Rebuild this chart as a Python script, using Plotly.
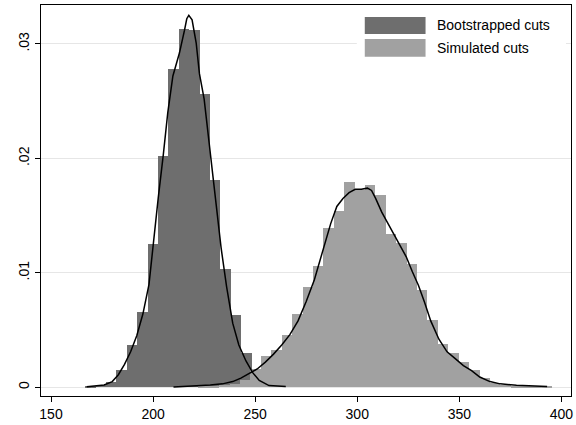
import plotly.graph_objects as go

# ---------------- data ----------------
boot_edges = [166.7, 171.8, 176.9, 182.0, 187.1, 192.2, 197.3, 202.4, 207.5, 212.6,
              217.7, 222.8, 227.9, 233.0, 238.1, 243.2, 248.3, 253.4, 258.5]
boot_density = [0.0001, 0.0002, 0.0005, 0.0015, 0.0037, 0.0066, 0.0125, 0.0202, 0.0278, 0.0313,
                0.0312, 0.0256, 0.0181, 0.0103, 0.0063, 0.0030, 0.00145, 0.0005, 0.0002]

sim_edges = [222.2, 227.3, 232.4, 237.5, 242.6, 247.7, 252.8, 257.9, 263.0, 268.1,
             273.2, 278.3, 283.4, 288.5, 293.6, 298.7, 303.8, 308.9, 314.0, 319.1,
             324.2, 329.3, 334.4, 339.5, 344.6, 349.7, 354.8, 359.9, 365.0, 370.1,
             375.2, 380.3, 385.4, 390.5]
sim_density = [0.0001, 0.0001, 0.0002, 0.0003, 0.0006, 0.0016, 0.0027, 0.0033, 0.0046, 0.0064,
               0.0088, 0.0106, 0.0139, 0.0154, 0.0179, 0.0172, 0.0177, 0.0168, 0.0134, 0.0126,
               0.0108, 0.0085, 0.0059, 0.0038, 0.0030, 0.0022, 0.0015, 0.0008, 0.0004, 0.0002,
               0.0001, 0.0001, 0.0001, 0.0001]
bin_width = 5.1

boot_kde_x = [167.5, 172, 176, 180, 183, 186, 189, 192, 195, 198, 200, 202.5, 205, 207.2,
              209.7, 212.9, 215.4, 216.5, 217.5, 219.1, 221.1, 222.7, 225, 227.6, 230.8,
              233.3, 236, 239, 242, 245.5, 248.7, 252, 256.8, 260, 265]
boot_kde_y = [0.00005, 0.0001, 0.0002, 0.0005, 0.0011, 0.0020, 0.0031, 0.0045, 0.0064, 0.0090,
              0.0125, 0.0165, 0.0203, 0.0240, 0.0272, 0.0292, 0.0312, 0.0322, 0.0325, 0.0321,
              0.0301, 0.0274, 0.0252, 0.0211, 0.0164, 0.0122, 0.0088, 0.0056, 0.0037, 0.0023,
              0.0013, 0.0006, 0.00015, 0.0001, 0.00007]

sim_kde_x = [210, 216, 222, 228, 234, 239, 243, 247, 251, 255, 259, 263, 267, 271, 275, 279,
             283, 287, 290, 293, 296, 299, 302, 305, 307, 309, 312, 315, 318, 321, 324, 327,
             330, 333, 336, 340, 344, 348, 352, 356, 360, 365, 370, 378, 385, 393]
sim_kde_y = [0.00003, 0.00008, 0.00014, 0.0002, 0.0003, 0.0005, 0.0008, 0.0012, 0.0016, 0.0022,
             0.0029, 0.0037, 0.0046, 0.0058, 0.0075, 0.0094, 0.0118, 0.0143, 0.0158, 0.0165,
             0.0170, 0.0173, 0.0173, 0.0174, 0.0172, 0.0165, 0.0153, 0.0143, 0.0134, 0.0124,
             0.0114, 0.0101, 0.0089, 0.0074, 0.0058, 0.0042, 0.0031, 0.0025, 0.0019, 0.00145,
             0.0009, 0.0005, 0.0003, 0.00018, 0.00012, 0.00008]

legend_labels = ["Bootstrapped cuts", "Simulated cuts"]
x_ticks = [150, 200, 250, 300, 350, 400]
y_ticks = [0, 0.01, 0.02, 0.03]
y_ticktext = ["0", ".01", ".02", ".03"]

# ---------------- styling ----------------
DARK = "#6e6e6e"
LIGHT = "#a1a1a1"
FONT = "Liberation Sans, Arial, Helvetica, sans-serif"

fig = go.Figure()
fig.add_trace(go.Bar(x=[e + bin_width / 2 for e in boot_edges], y=boot_density, width=bin_width,
                     marker=dict(color=DARK, line=dict(width=0)), name=legend_labels[0],
                     showlegend=False))
fig.add_trace(go.Bar(x=[e + bin_width / 2 for e in sim_edges], y=sim_density, width=bin_width,
                     marker=dict(color=LIGHT, line=dict(width=0)), name=legend_labels[1],
                     showlegend=False))
fig.add_trace(go.Scatter(x=boot_kde_x, y=boot_kde_y, mode="lines", line=dict(color="black", width=1.5),
                         showlegend=False))
fig.add_trace(go.Scatter(x=sim_kde_x, y=sim_kde_y, mode="lines", line=dict(color="black", width=1.5),
                         showlegend=False))

W, H = 576, 425
L, R, T, B = 41, 3, 5, 28
pw, ph = W - L - R, H - T - B


def px_x(p):
    return (p - L) / pw


def px_y(p):
    return (H - B - p) / ph


shapes = [
    # legend background
    dict(type="rect", xref="paper", yref="paper", x0=px_x(358), x1=px_x(568), y0=px_y(62), y1=px_y(10),
         fillcolor="white", line=dict(width=0), layer="above"),
    dict(type="rect", xref="paper", yref="paper", x0=px_x(366), x1=px_x(427), y0=px_y(34), y1=px_y(17),
         fillcolor=DARK, line=dict(width=0), layer="above"),
    dict(type="rect", xref="paper", yref="paper", x0=px_x(366), x1=px_x(427), y0=px_y(57), y1=px_y(39),
         fillcolor=LIGHT, line=dict(width=0), layer="above"),
]
annotations = [
    dict(text=legend_labels[0], xref="paper", yref="paper", x=px_x(436), y=px_y(25.5),
         xanchor="left", yanchor="middle", showarrow=False, font=dict(size=14, color="black", family=FONT)),
    dict(text=legend_labels[1], xref="paper", yref="paper", x=px_x(436), y=px_y(48),
         xanchor="left", yanchor="middle", showarrow=False, font=dict(size=14, color="black", family=FONT)),
]

fig.update_layout(
    width=W, height=H, margin=dict(l=L, r=R, t=T, b=B, pad=0),
    paper_bgcolor="white", plot_bgcolor="white",
    barmode="overlay", bargap=0,
    font=dict(family=FONT, size=14, color="black"),
    shapes=shapes, annotations=annotations, showlegend=False,
    xaxis=dict(range=[145.1, 404.7], tickvals=x_ticks, ticks="outside", ticklen=5, tickwidth=1,
               tickcolor="black", showgrid=False, zeroline=False, showline=True, linecolor="black",
               linewidth=1.2, mirror=True, tickfont=dict(size=14, family=FONT)),
    yaxis=dict(range=[-0.00076, 0.0334], tickvals=y_ticks, ticktext=y_ticktext, tickangle=-90,
               ticks="outside", ticklen=5, tickwidth=1, tickcolor="black", showgrid=True,
               gridcolor="#e6e6e6", gridwidth=1, zeroline=False, showline=True, linecolor="black",
               linewidth=1.2, mirror=True, tickfont=dict(size=14, family=FONT)),
)

fig.write_html("out.html", config={"displayModeBar": False},
               post_script="document.body.style.margin='0px';document.body.style.overflow='hidden';")
